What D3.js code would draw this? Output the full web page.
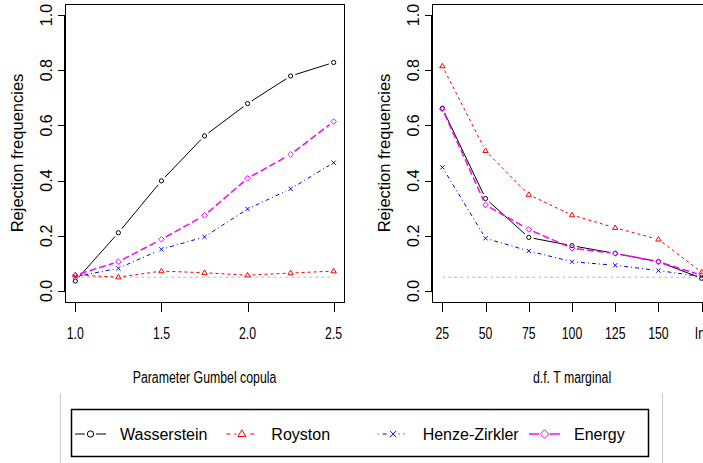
<!DOCTYPE html>
<html>
<head>
<meta charset="utf-8">
<script src="https://cdn.jsdelivr.net/npm/d3@7"></script>
<style>
  body { margin: 0; background: #fff; }
  svg { display: block; font-family: "Liberation Sans", Arial, sans-serif; }
</style>
</head>
<body>
<div id="chart"></div>
<script>
// left panel: Gumbel copula parameter
var gumbelParam = [1.0, 1.25, 1.5, 1.75, 2.0, 2.25, 2.5];
var gumbelTicks = [1.0, 1.5, 2.0, 2.5];
var gumbelWasserstein = [0.036, 0.211, 0.399, 0.562, 0.679, 0.779, 0.828];
var gumbelRoyston     = [0.058, 0.050, 0.072, 0.066, 0.057, 0.065, 0.072];
var gumbelHenze       = [0.052, 0.082, 0.151, 0.196, 0.297, 0.370, 0.465];
var gumbelEnergy      = [0.057, 0.106, 0.187, 0.274, 0.408, 0.495, 0.614];

// right panel: degrees of freedom of T marginal
var dfLabels = ["25", "50", "75", "100", "125", "150", "Inf"];
var dfWasserstein = [0.662, 0.335, 0.194, 0.164, 0.136, 0.106, 0.046];
var dfRoyston     = [0.815, 0.508, 0.349, 0.275, 0.229, 0.187, 0.068];
var dfHenze       = [0.448, 0.191, 0.145, 0.106, 0.093, 0.074, 0.052];
var dfEnergy      = [0.659, 0.312, 0.223, 0.155, 0.136, 0.106, 0.057];

var yTicks = [0, 0.2, 0.4, 0.6, 0.8, 1.0];
var nominalLevel = 0.05;

var seriesNames = ["Wasserstein", "Royston", "Henze-Zirkler", "Energy"];

(function () {

	var W = 703, H = 463;
	var squeeze = 0.77; // x labels look horizontally condensed

	var styles = [
		{ color: "#000000", dash: null, width: 1, pch: "circle" },
		{ color: "#ff0000", dash: "3,3", width: 1, pch: "triangle" },
		{ color: "#0000ff", dash: "1,3,4,3", width: 1, pch: "cross" },
		{ color: "#ff00ff", dash: "7,3", width: 1.5, pch: "diamond" }
	];

	var svg = d3.select("#chart").append("svg")
		.attr("width", W)
		.attr("height", H);

	svg.append("rect").attr("width", W).attr("height", H).attr("fill", "#fff");

	var y = d3.scaleLinear().domain([-0.04, 1.04]).range([302, 4]);

	function marker(g, type, cx, cy, s, color) {
		if (type === "circle") {
			g.append("circle").attr("cx", cx).attr("cy", cy).attr("r", 2.1 * s)
				.attr("fill", "none").attr("stroke", color).attr("stroke-width", 1);
		} else if (type === "triangle") {
			var r = 2.8 * s;
			g.append("path")
				.attr("d", "M" + cx + "," + (cy - r) + "L" + (cx + r * 0.95) + "," + (cy + r * 0.6) +
					"L" + (cx - r * 0.95) + "," + (cy + r * 0.6) + "Z")
				.attr("fill", "none").attr("stroke", color).attr("stroke-width", 1);
		} else if (type === "cross") {
			var c = 2.1 * s;
			g.append("path")
				.attr("d", "M" + (cx - c) + "," + (cy - c) + "L" + (cx + c) + "," + (cy + c) +
					"M" + (cx - c) + "," + (cy + c) + "L" + (cx + c) + "," + (cy - c))
				.attr("stroke", color).attr("stroke-width", 1);
		} else {
			var d = 2.8 * s;
			g.append("path")
				.attr("d", "M" + cx + "," + (cy - d) + "L" + (cx + d) + "," + cy +
					"L" + cx + "," + (cy + d) + "L" + (cx - d) + "," + cy + "Z")
				.attr("fill", "none").attr("stroke", color).attr("stroke-width", 1);
		}
	}

	function squeezedText(g, x0, y0, txt) {
		return g.append("text")
			.attr("transform", "translate(" + x0 + "," + y0 + ") scale(" + squeeze + ",1)")
			.attr("text-anchor", "middle")
			.attr("font-size", "16px")
			.attr("fill", "#000")
			.text(txt);
	}

	function panel(x, xs, tickVals, tickText, allSeries, xTitle) {
		var g = svg.append("g");
		var x0 = x.range()[0], x1 = x.range()[1];
		var yb = y.range()[0], yt = y.range()[1];

		// reference line at nominal level
		g.append("line")
			.attr("x1", x(xs[0])).attr("x2", x(xs[xs.length - 1]))
			.attr("y1", y(nominalLevel)).attr("y2", y(nominalLevel))
			.attr("stroke", "#b8b8b8").attr("stroke-width", 1)
			.attr("stroke-dasharray", "3,3");

		// series: lines with gaps around the points (type = "b")
		var gap = 5;
		allSeries.forEach(function (vals, k) {
			var st = styles[k];
			var pts = xs.map(function (d, i) { return [x(d), y(vals[i])]; });
			for (var i = 0; i < pts.length - 1; i++) {
				var dx = pts[i + 1][0] - pts[i][0], dy = pts[i + 1][1] - pts[i][1];
				var len = Math.sqrt(dx * dx + dy * dy);
				if (len <= 2 * gap) continue;
				var ux = dx / len, uy = dy / len;
				g.append("line")
					.attr("x1", pts[i][0] + ux * gap).attr("y1", pts[i][1] + uy * gap)
					.attr("x2", pts[i + 1][0] - ux * gap).attr("y2", pts[i + 1][1] - uy * gap)
					.attr("stroke", st.color)
					.attr("stroke-width", st.width)
					.attr("stroke-dasharray", st.dash);
			}
			pts.forEach(function (p) { marker(g, st.pch, p[0], p[1], 1, st.color); });
		});

		// box
		g.append("rect")
			.attr("x", x0 + 0.5).attr("y", yt + 0.5)
			.attr("width", x1 - x0).attr("height", yb - yt)
			.attr("fill", "none").attr("stroke", "#000").attr("stroke-width", 1);

		// x axis
		g.append("line")
			.attr("x1", x(tickVals[0])).attr("x2", x(tickVals[tickVals.length - 1]))
			.attr("y1", yb + 0.5).attr("y2", yb + 0.5)
			.attr("stroke", "#000");
		tickVals.forEach(function (t, i) {
			var tx = Math.round(x(t)) + 0.5;
			g.append("line").attr("x1", tx).attr("x2", tx)
				.attr("y1", yb).attr("y2", yb + 10).attr("stroke", "#000");
			squeezedText(g, x(t), 339, tickText[i]);
		});
		squeezedText(g, (x0 + x1) / 2, 383, xTitle);

		// y axis
		g.append("line")
			.attr("x1", x0 - 0.5).attr("x2", x0 - 0.5)
			.attr("y1", y(yTicks[0])).attr("y2", y(yTicks[yTicks.length - 1]))
			.attr("stroke", "#000");
		yTicks.forEach(function (t) {
			var ty = Math.round(y(t)) + 0.5;
			g.append("line").attr("x1", x0 - 7).attr("x2", x0)
				.attr("y1", ty).attr("y2", ty).attr("stroke", "#000");
			g.append("text")
				.attr("transform", "translate(" + (x0 - 13) + "," + y(t) + ") rotate(-90)")
				.attr("text-anchor", "middle")
				.attr("font-size", "16px")
				.text(d3.format(".1f")(t));
		});
		g.append("text")
			.attr("transform", "translate(" + (x0 - 42) + "," + y(0.5) + ") rotate(-90)")
			.attr("text-anchor", "middle")
			.attr("font-size", "16.5px")
			.text("Rejection frequencies");
	}

	// left panel
	var xLeft = d3.scaleLinear().domain([0.94, 2.56]).range([65, 344]);
	panel(xLeft, gumbelParam, gumbelTicks, gumbelTicks.map(d3.format(".1f")),
		[gumbelWasserstein, gumbelRoyston, gumbelHenze, gumbelEnergy],
		"Parameter Gumbel copula");

	// right panel (categories at 1..7)
	var dfIndex = dfLabels.map(function (d, i) { return i + 1; });
	var xRight = d3.scaleLinear().domain([0.76, 7.24]).range([432, 712]);
	panel(xRight, dfIndex, dfIndex, dfLabels,
		[dfWasserstein, dfRoyston, dfHenze, dfEnergy],
		"d.f. T marginal");

	// faint frame lines around the legend area
	[60.5, 662.5].forEach(function (fx) {
		svg.append("line").attr("x1", fx).attr("x2", fx)
			.attr("y1", 393).attr("y2", H)
			.attr("stroke", "#cccccc").attr("stroke-width", 1);
	});

	// legend
	var lg = svg.append("g");
	lg.append("rect")
		.attr("x", 71.5).attr("y", 409.5).attr("width", 577).attr("height", 47)
		.attr("fill", "#fff").attr("stroke", "#000").attr("stroke-width", 1.5);
	var itemX = d3.scaleLinear().domain([0, 3]).range([75, 529]);
	seriesNames.forEach(function (name, k) {
		var st = styles[k];
		var lx = itemX(k), ly = 434;
		var lineDash = k === 1 ? "4,4" : (k === 2 ? "1,4,4,4" : null);
		lg.append("line")
			.attr("x1", lx).attr("x2", lx + 31)
			.attr("y1", ly).attr("y2", ly)
			.attr("stroke", st.color).attr("stroke-width", st.width)
			.attr("stroke-dasharray", lineDash);
		lg.append("rect").attr("x", lx + 10).attr("y", ly - 5).attr("width", 11).attr("height", 10)
			.attr("fill", "#fff");
		marker(lg, st.pch, lx + 15.5, ly, 1.5, st.color);
		lg.append("text")
			.attr("x", lx + 45).attr("y", 440)
			.attr("font-size", "16px")
			.attr("fill", "#000")
			.text(name);
	});

})();
</script>
</body>
</html>
